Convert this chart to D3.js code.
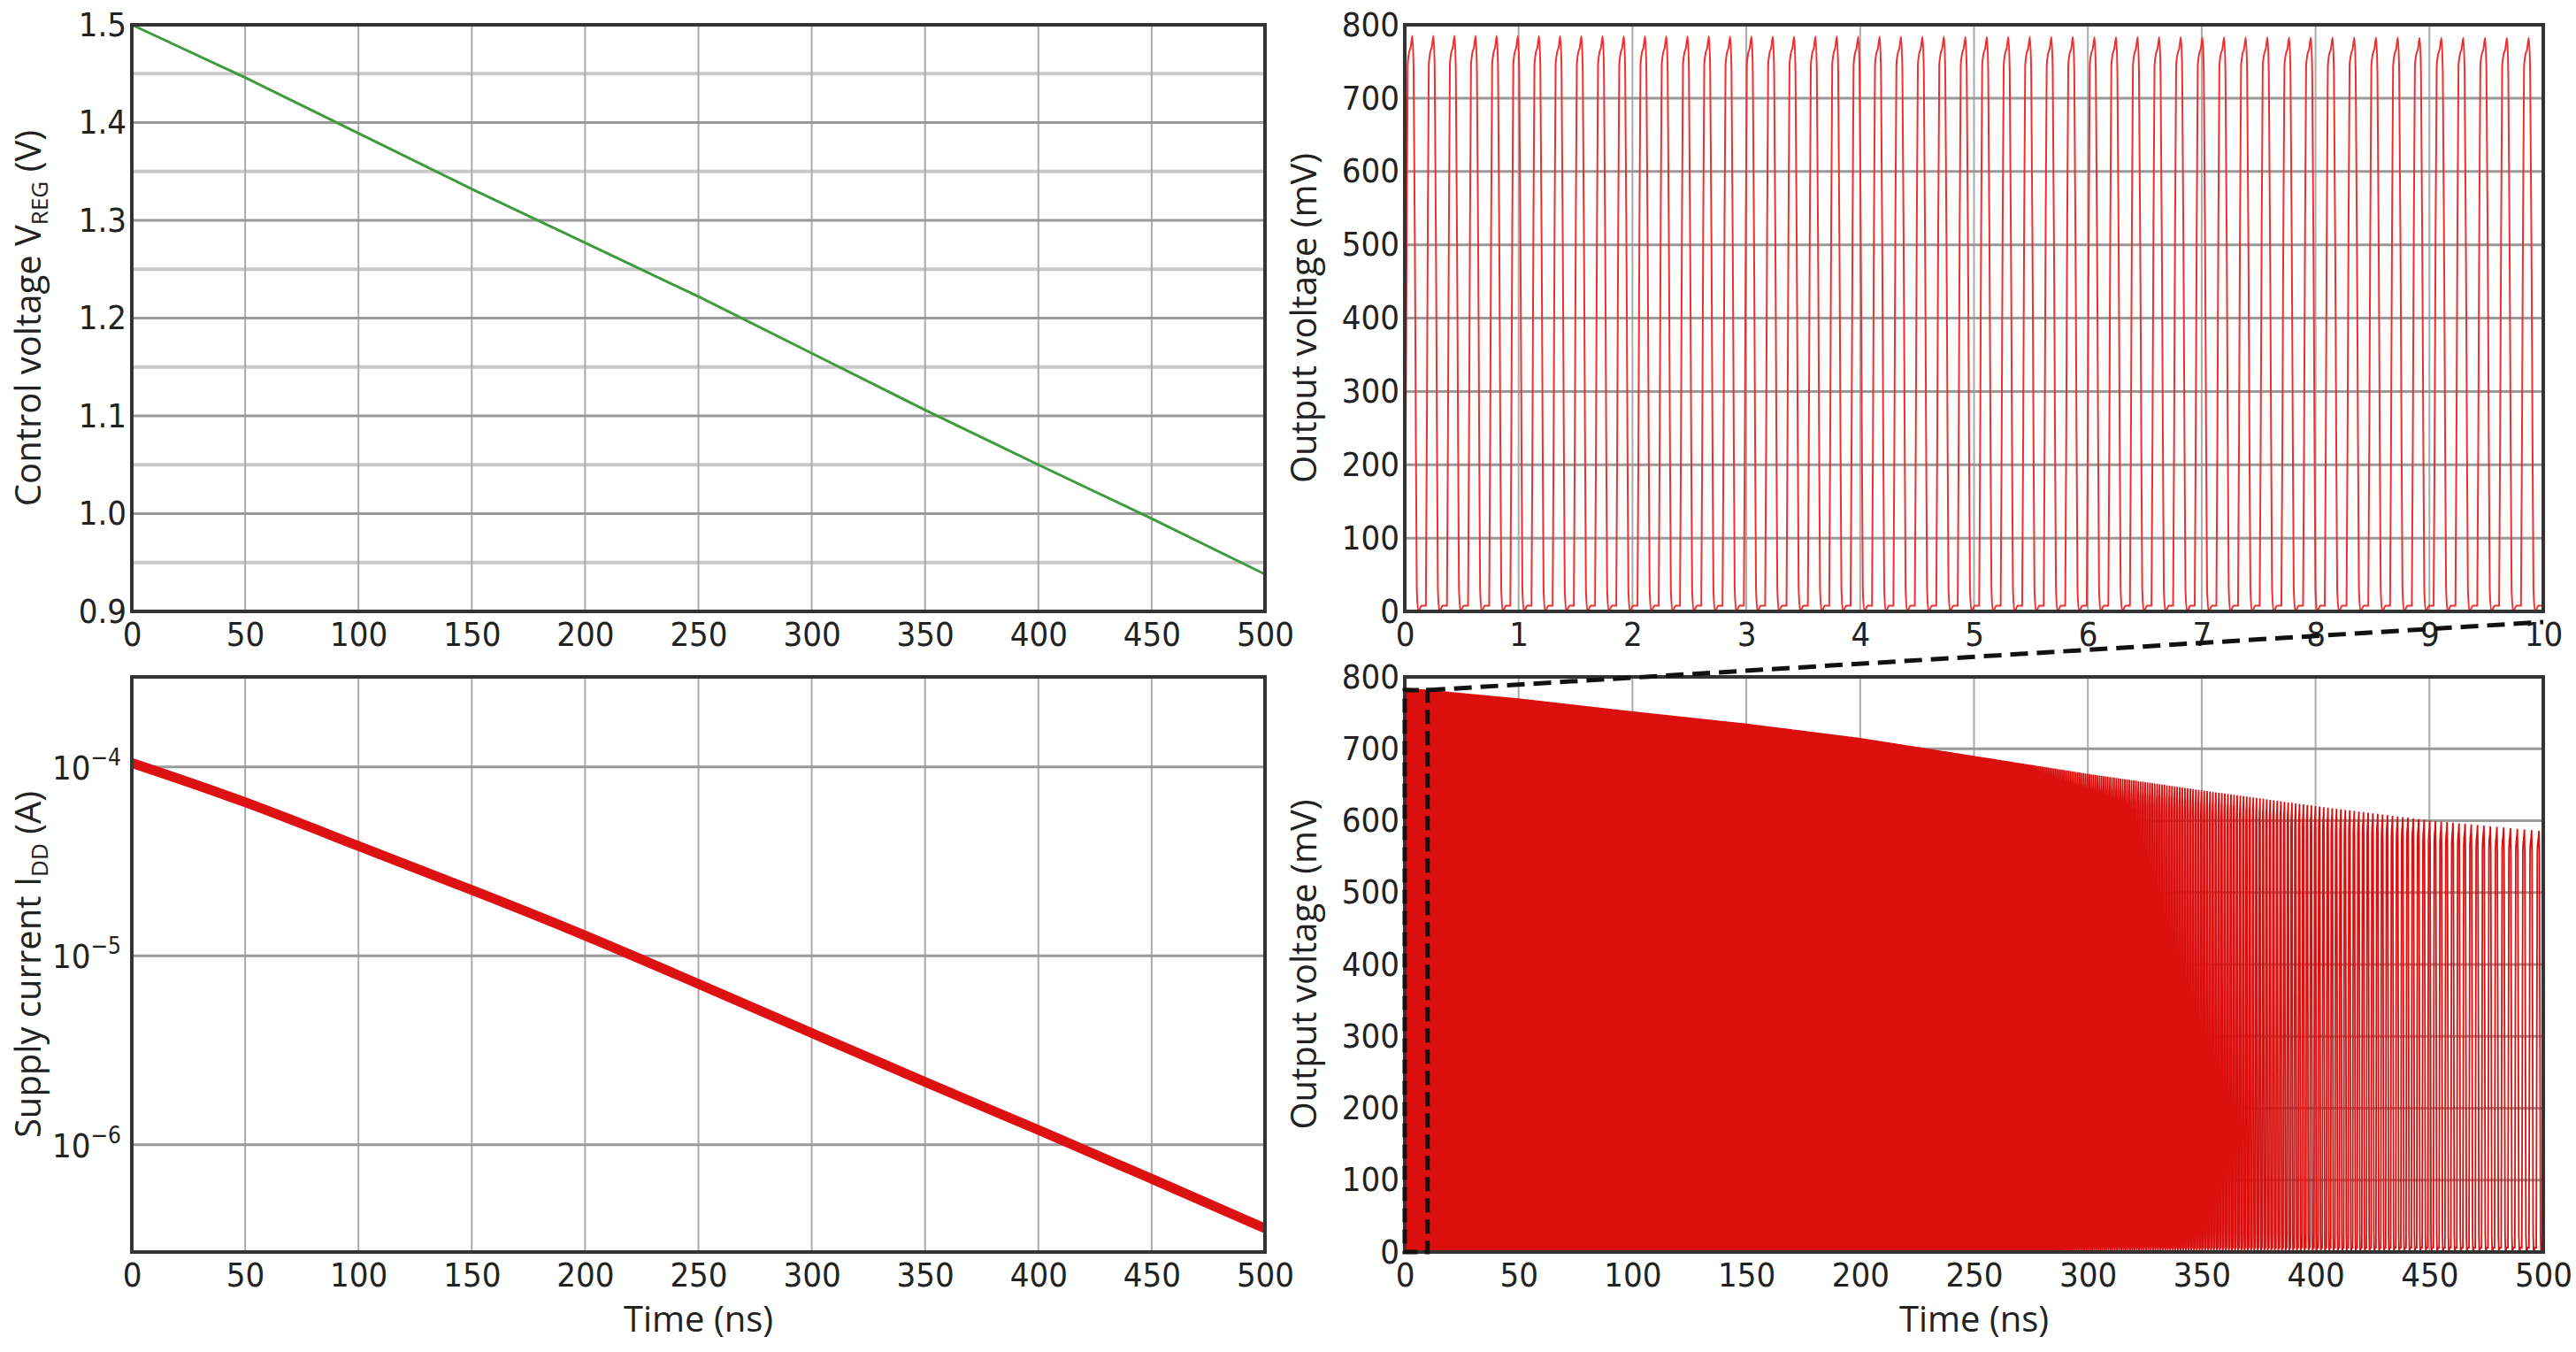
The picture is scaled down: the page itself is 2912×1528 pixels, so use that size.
<!DOCTYPE html>
<html><head><meta charset="utf-8">
<script src="https://cdn.jsdelivr.net/npm/d3@7"></script>
<style>
body{margin:0;background:#fff;}
text{font-family:"Open Sans","Noto Sans",sans-serif;fill:#222;}
.tick text{font-family:"Liberation Sans Narrow","DejaVu Sans Condensed","Open Sans",sans-serif;font-size:38px;}
</style></head>
<body><svg id="chart" width="2912" height="1528"></svg>
<script>
'use strict';

// control voltage (V) vs time (ns)
var vregTime = [0, 50, 100, 150, 200, 250, 300, 350, 400, 450, 500];
var vregVals = [1.5, 1.446, 1.389, 1.332, 1.277, 1.222, 1.164, 1.106, 1.050, 0.995, 0.938];

// supply current (A) vs time (ns)
var iddTime = [0, 50, 100, 150, 200, 250, 300, 350, 400, 450, 500];
var iddVals = [1.05e-4, 6.6e-5, 3.8e-5, 2.24e-5, 1.29e-5, 7.1e-6, 3.9e-6, 2.14e-6, 1.2e-6, 6.6e-7, 3.6e-7];

// oscillator frequency (GHz) and peak (mV) vs time (ns)
var oscTime = [0, 50, 100, 150, 200, 250, 300, 350, 400, 450, 500];
var oscFreq = [5.4, 4.4, 3.5, 2.7, 2.1, 1.6, 1.15, 0.8, 0.55, 0.4, 0.3];
var oscPeak = [785, 770, 752, 735, 715, 690, 665, 642, 620, 600, 585];

// one oscillation cycle: [phase, fraction of peak]
var cyclePhase = [0, 0.07, 0.14, 0.2, 0.28, 0.36, 0.42, 0.5, 0.57, 0.64, 0.8, 1];
var cycleLevel = [0.01, 0.5, 0.95, 0.97, 0.98, 1.0, 0.94, 0.5, 0.04, 0.0, 0.01, 0.01];

var timeTicks = [0, 50, 100, 150, 200, 250, 300, 350, 400, 450, 500];
var zoomTicks = [0, 1, 2, 3, 4, 5, 6, 7, 8, 9, 10];
var mvTicks = [0, 100, 200, 300, 400, 500, 600, 700, 800];
var vregTicks = [0.9, 1.0, 1.1, 1.2, 1.3, 1.4, 1.5];
var iddTicks = [1e-4, 1e-5, 1e-6];

var svg = d3.select('#chart');

var panels = {
  tl: {x0: 149, x1: 1430, y0: 28, y1: 691},
  tr: {x0: 1588, x1: 2875, y0: 28, y1: 691},
  bl: {x0: 149, x1: 1430, y0: 765, y1: 1415},
  br: {x0: 1588, x1: 2875, y0: 765, y1: 1415}
};

function drawFrame(p, x, y, xt, yt, minorY, fmtY) {
  var g = svg.append('g');
  g.selectAll('.mg').data(minorY || []).enter().append('line')
    .attr('x1', p.x0).attr('x2', p.x1)
    .attr('y1', function(d){ return y(d); }).attr('y2', function(d){ return y(d); })
    .attr('stroke', '#c8c8c8').attr('stroke-width', 4);
  g.selectAll('.vg').data(xt).enter().append('line')
    .attr('x1', function(d){ return x(d); }).attr('x2', function(d){ return x(d); })
    .attr('y1', p.y0).attr('y2', p.y1)
    .attr('stroke', '#aaa').attr('stroke-width', 2);
  g.selectAll('.hg').data(yt).enter().append('line')
    .attr('x1', p.x0).attr('x2', p.x1)
    .attr('y1', function(d){ return y(d); }).attr('y2', function(d){ return y(d); })
    .attr('stroke', '#999').attr('stroke-width', 3);

  var xa = svg.append('g').attr('transform', 'translate(0,' + (p.y1 + 4) + ')')
    .call(d3.axisBottom(x).tickValues(xt).tickSize(0).tickPadding(8));
  xa.select('.domain').remove();
  var ya = svg.append('g').attr('transform', 'translate(' + (p.x0 - 2) + ',0)')
    .call(d3.axisLeft(y).tickValues(yt).tickSize(0).tickPadding(4).tickFormat(fmtY || null));
  ya.select('.domain').remove();
  return g;
}

function border(p) {
  svg.append('rect').attr('x', p.x0).attr('y', p.y0)
    .attr('width', p.x1 - p.x0).attr('height', p.y1 - p.y0)
    .attr('fill', 'none').attr('stroke', '#333').attr('stroke-width', 4);
}

function yLabel(cx, cy, parts) {
  var t = svg.append('text').attr('transform', 'translate(' + cx + ',' + cy + ') rotate(-90)')
    .attr('text-anchor', 'middle').style('font-size', '40px');
  parts.forEach(function(pt){
    var s = t.append('tspan').text(pt[0]);
    if (pt[1] === 1) s.style('font-size', '26px').attr('dy', 8);
    if (pt[1] === 2) s.attr('dy', -8);
  });
}

// build oscillation waveform from frequency/peak samples
function waveform(tEnd) {
  var freq = d3.scaleLinear().domain(oscTime).range(oscFreq);
  var peak = d3.scaleLinear().domain(oscTime).range(oscPeak);
  var pts = [];
  var t = 0;
  while (t < tEnd) {
    var per = 1 / freq(t);
    var pk = peak(t);
    for (var i = 0; i < cyclePhase.length - 1; i++) {
      var tt = t + cyclePhase[i] * per;
      if (tt > tEnd) break;
      pts.push([tt, cycleLevel[i] * pk]);
    }
    t += per;
  }
  return pts;
}

// top left
(function(){
  var p = panels.tl;
  var x = d3.scaleLinear().domain([0, 500]).range([p.x0, p.x1]);
  var y = d3.scaleLinear().domain([0.9, 1.5]).range([p.y1, p.y0]);
  drawFrame(p, x, y, timeTicks, vregTicks, [0.95, 1.05, 1.15, 1.25, 1.35, 1.45], d3.format('.1f'));
  svg.append('path').datum(d3.zip(vregTime, vregVals))
    .attr('d', d3.line().x(function(d){ return x(d[0]); }).y(function(d){ return y(d[1]); }))
    .attr('fill', 'none').attr('stroke', '#3d9a3d').attr('stroke-width', 3);
  border(p);
  yLabel(46, (p.y0 + p.y1) / 2, [['Control voltage V'], ['REG', 1], [' (V)', 2]]);
})();

// bottom left
(function(){
  var p = panels.bl;
  var x = d3.scaleLinear().domain([0, 500]).range([p.x0, p.x1]);
  var y = d3.scaleLog().domain([2.7e-7, 3.0e-4]).range([p.y1, p.y0]);
  drawFrame(p, x, y, timeTicks, iddTicks, [], function(){ return ''; });
  svg.append('path').datum(d3.zip(iddTime, iddVals))
    .attr('d', d3.line().curve(d3.curveBasis).x(function(d){ return x(d[0]); }).y(function(d){ return y(d[1]); }))
    .attr('fill', 'none').attr('stroke', '#dd1111').attr('stroke-width', 11);
  iddTicks.forEach(function(v){
    var t = svg.append('text').attr('x', p.x0 - 12).attr('y', y(v) + 14)
      .attr('text-anchor', 'end').style('font-size', '38px')
      .style('font-family', '"Liberation Sans Narrow","DejaVu Sans Condensed",sans-serif');
    t.append('tspan').text('10');
    t.append('tspan').attr('dy', -16).style('font-size', '26px').text('−' + Math.round(-Math.log10(v)));
  });
  border(p);
  yLabel(46, (p.y0 + p.y1) / 2, [['Supply current I'], ['DD', 1], [' (A)', 2]]);
  svg.append('text').attr('x', (p.x0 + p.x1) / 2).attr('y', 1505)
    .attr('text-anchor', 'middle').style('font-size', '40px').text('Time (ns)');
})();

// top right
(function(){
  var p = panels.tr;
  var x = d3.scaleLinear().domain([0, 10]).range([p.x0, p.x1]);
  var y = d3.scaleLinear().domain([0, 800]).range([p.y1, p.y0]);
  drawFrame(p, x, y, zoomTicks, mvTicks);
  svg.append('path').datum(waveform(10))
    .attr('d', d3.line().curve(d3.curveMonotoneX).x(function(d){ return x(d[0]); }).y(function(d){ return y(d[1]); }))
    .attr('fill', 'none').attr('stroke', '#f03030').attr('stroke-width', 2);
  border(p);
  yLabel(1488, (p.y0 + p.y1) / 2, [['Output voltage (mV)']]);
})();

// bottom right
(function(){
  var p = panels.br;
  var x = d3.scaleLinear().domain([0, 500]).range([p.x0, p.x1]);
  var y = d3.scaleLinear().domain([0, 800]).range([p.y1, p.y0]);
  drawFrame(p, x, y, timeTicks, mvTicks);
  svg.append('path').datum(waveform(500))
    .attr('d', d3.line().x(function(d){ return x(d[0]); }).y(function(d){ return y(d[1]); }))
    .attr('fill', 'none').attr('stroke', '#dc0f0f').attr('stroke-width', 1.8);
  border(p);
  yLabel(1488, (p.y0 + p.y1) / 2, [['Output voltage (mV)']]);
  svg.append('text').attr('x', (p.x0 + p.x1) / 2).attr('y', 1505)
    .attr('text-anchor', 'middle').style('font-size', '40px').text('Time (ns)');

  // zoom box and connecting line
  var tr = panels.tr;
  svg.append('rect').attr('x', x(0)).attr('y', p.y0 + 15)
    .attr('width', x(10) - x(0)).attr('height', p.y1 - p.y0 - 15)
    .attr('fill', 'none').attr('stroke', '#111').attr('stroke-width', 5).attr('stroke-dasharray', '16,8');
  svg.append('line').attr('x1', x(10)).attr('y1', p.y0 + 15).attr('x2', tr.x1).attr('y2', tr.y1 + 12)
    .attr('stroke', '#111').attr('stroke-width', 5).attr('stroke-dasharray', '20,10');
})();
</script></body></html>
